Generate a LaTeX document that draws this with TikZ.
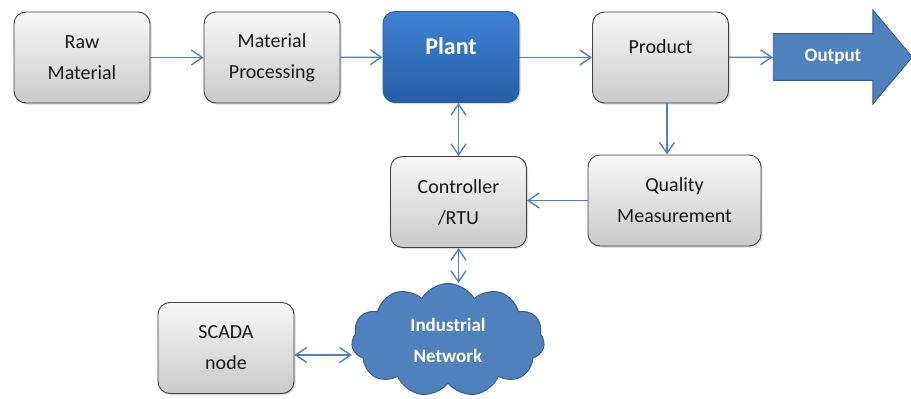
\documentclass[tikz,border=0pt]{standalone}
\usepackage{fontspec}
\setmainfont{Carlito}
\usetikzlibrary{shapes.symbols, shapes.arrows, arrows.meta, shadows}

\definecolor{linkblue}{RGB}{79,129,189}
\definecolor{plantTop}{RGB}{62,131,211}
\definecolor{plantBot}{RGB}{40,92,166}
\definecolor{netfill}{RGB}{79,129,189}
\definecolor{netdraw}{RGB}{56,93,138}

\tikzset{
  box/.style={draw=black!75, line width=0.9pt, rounded corners=12pt,
    top color=gray!6, bottom color=gray!42, minimum width=136pt, minimum height=91pt,
    align=center, text=black!90, font=\fontsize{20}{31}\selectfont,
    drop shadow={shadow xshift=1.5pt, shadow yshift=-1.5pt, opacity=0.3}},
  link/.style={draw=linkblue, line width=1.4pt, -{Straight Barb[length=11pt,width=15pt]}},
  both/.style={link, {Straight Barb[length=11pt,width=15pt]}-{Straight Barb[length=11pt,width=15pt]}},
}

\begin{document}
\begin{tikzpicture}[x=1pt, y=-1pt]
        \useasboundingbox (0,0) rectangle (911,399);
        % Define the nodes
        \node[box] (raw) at (82,57.5) {Raw\\Material};
        \node[box] (proc) at (272,57.5) {Material\\Processing};
        \node[box, draw=plantBot, top color=plantTop, bottom color=plantBot, text=white,
              font=\fontsize{24}{31}\selectfont\bfseries, text depth=22pt] (plant) at (451,57) {Plant};
        \node[box, text depth=22pt] (prod) at (660.5,57.5) {Product};
        \node[single arrow, draw=netdraw, fill=netfill, line width=0.9pt, text=white,
              font=\fontsize{19}{22}\selectfont\bfseries, minimum height=139pt, minimum width=94pt,
              single arrow head extend=23.5pt, single arrow tip angle=100,
              inner xsep=0pt, inner ysep=15pt] (out) at (833,57) {Output};
        \node[box] (ctrl) at (458.5,202) {Controller\\/RTU};
        \node[box, minimum width=173pt] (qual) at (674.5,200.5) {Quality\\Measurement};
        \node[box] (scada) at (226,348) {SCADA\\node};
        \node[cloud, cloud puffs=11, cloud puff arc=120, aspect=1.7, draw=netdraw, fill=netfill,
              line width=1pt, text=white, align=center, font=\fontsize{19}{31}\selectfont\bfseries,
              minimum width=193pt, minimum height=113pt, inner sep=0pt] (net) at (448,340) {Industrial\\Network};

        % Draw the edges
        \draw[link] (raw) -- (proc);
        \draw[link] (proc) -- (plant);
        \draw[link] (plant.east |- prod) -- (prod);
        \draw[link] (prod) -- (out);
        \draw[both] (plant.south -| ctrl) -- (ctrl.north);
        \draw[link] ([xshift=6.5pt]prod.south) -- ([xshift=6.5pt]prod.south |- qual.north);
        \draw[link] (qual.west) -- (qual.west -| ctrl.east);
        \draw[both] (ctrl.south) -- (ctrl.south |- net.north);
        \draw[both] ([yshift=-7pt]scada.east) -- ([yshift=-7pt]scada.east -| net.west);
\end{tikzpicture}
\end{document}
